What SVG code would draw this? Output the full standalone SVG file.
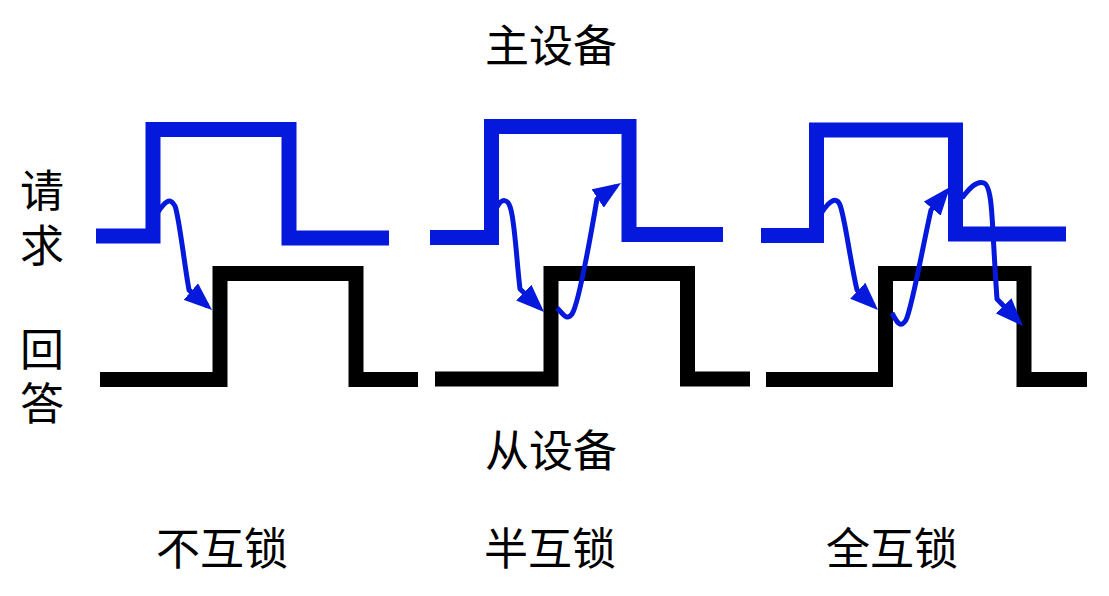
<svg xmlns="http://www.w3.org/2000/svg" width="1109" height="596" viewBox="0 0 1109 596">
<style>
.req{fill:none;stroke:#0519DC;stroke-width:15;stroke-linejoin:miter;stroke-linecap:butt}
.ack{fill:none;stroke:#000;stroke-width:15;stroke-linejoin:miter;stroke-linecap:butt}
.arr{fill:none;stroke:#0519DC;stroke-width:5;stroke-linejoin:round;marker-end:url(#ah)}
text{font-family:"Liberation Serif","Noto Sans CJK SC",serif;font-size:44px;fill:#000;text-anchor:middle}
</style>
<defs>
<marker id="ah" markerUnits="userSpaceOnUse" markerWidth="30" markerHeight="22" refX="22" refY="11" orient="auto">
<path d="M0,0 L28,11 L0,22 z" fill="#0519DC"/>
</marker>
</defs>
<rect width="1109" height="596" fill="#fff"/>
<g id="labels">
<text x="551" y="62">主设备</text>
<text x="551" y="467">从设备</text>
<text x="42" y="207">请</text>
<text x="42" y="262">求</text>
<text x="42" y="366">回</text>
<text x="42" y="420">答</text>
</g>
<g id="p1-req"><path class="req" d="M96,236 H153 V129.5 H289 V238 H389"/></g>
<g id="p1-ack"><path class="ack" d="M100,379.5 H220 V273.5 H356 V379.5 H418"/></g>
<g id="p2-req"><path class="req" d="M430,237.5 H491.5 V126.5 H629 V234.5 H723"/></g>
<g id="p2-ack"><path class="ack" d="M435,379 H551 V273.5 H687.5 V379 H750"/></g>
<g id="p3-req"><path class="req" d="M761,235.5 H816.5 V130 H955.5 V234 H1066"/></g>
<g id="p3-ack"><path class="ack" d="M766,379.5 H885.5 V273.5 H1024 V379.5 H1087"/></g>
<g id="connectors">
<path class="arr" d="M158,212 C164,203 170,196 175,206 C179,216 184,262 189,290 L207.5,306"/>
<path class="arr" d="M497,207 C502,198 508,198 511,210 C515,225 517,265 520,289 L539.7,307.8"/>
<path class="arr" d="M557,308 C562,312 566,322 572,314 C578,305 590,240 597,199 L616,186.3"/>
<path class="arr" d="M822,212 C828,203 836,195 840,205 C845,218 850,260 857,290 L873.7,305.8"/>
<path class="arr" d="M892,313 C896,320 900,330 906,320 C912,308 922,250 931,210 L946.2,191.6"/>
<path class="arr" d="M962,198 C968,190 976,180 984,183 C992,186 992,220 994,250 C995,270 996,285 997,299 L1018.8,321.7"/>
</g>
<g id="captions">
<text x="222" y="565">不互锁</text>
<text x="550" y="565">半互锁</text>
<text x="892" y="565">全互锁</text>
</g>
</svg>
